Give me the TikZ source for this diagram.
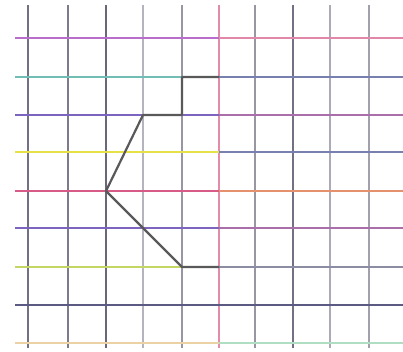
\documentclass[tikz,border=0pt]{standalone}
\usepackage{tikz}
\usetikzlibrary{arrows}
\definecolor{lnviolet}{RGB}{185,110,205}
\definecolor{lnpink}{RGB}{225,135,170}
\definecolor{lnteal}{RGB}{115,190,180}
\definecolor{lnslate}{RGB}{120,128,175}
\definecolor{lnindigo}{RGB}{125,100,190}
\definecolor{lnplum}{RGB}{170,110,170}
\definecolor{lnyellow}{RGB}{230,225,70}
\definecolor{lnred}{RGB}{215,90,135}
\definecolor{lnorange}{RGB}{230,145,110}
\definecolor{lnlime}{RGB}{195,215,100}
\definecolor{lngray}{RGB}{140,140,162}
\definecolor{lnnavy}{RGB}{90,90,130}
\definecolor{lnpale}{RGB}{235,210,165}
\definecolor{lnmint}{RGB}{175,222,195}
\definecolor{lnvert}{RGB}{70,65,90}
\tikzstyle{gridline} = [line width=1.15pt]
\tikzstyle{route} = [draw=black!65, line width=2.2pt, line join=round]

\begin{document}
\begin{tikzpicture}[x=1pt,y=-1pt]

\useasboundingbox[fill=white] (0,0) rectangle (403,352);

% vertical lines
\foreach \x/\c in {28/lnvert!75, 68/lnvert!70, 106/lnvert!80, 143/lnvert!40, 182/lnvert!55, 219/lnred!70, 255/lnvert!55, 293/lnvert!75, 330/lnvert!45, 369/lnvert!50}
  \draw[gridline, \c] (\x,5) -- (\x,348);

% horizontal lines, left part and right part
\foreach \y/\l/\r in {38/lnviolet/lnpink, 77/lnteal/lnslate, 115/lnindigo/lnplum, 152/lnyellow/lnslate, 191/lnred/lnorange, 228/lnindigo/lnplum, 267/lnlime/lngray, 305/lnnavy/lnnavy, 343/lnpale/lnmint}
{
  \draw[gridline, \l] (15,\y) -- (219,\y);
  \draw[gridline, \r] (219,\y) -- (403,\y);
}

% the route
\coordinate (p0) at (219,77);
\coordinate (p1) at (182,77);
\coordinate (p2) at (182,115);
\coordinate (p3) at (143,115);
\coordinate (p4) at (106,191);
\coordinate (p5) at (182,267);
\coordinate (p6) at (219,267);
\draw[route] (p0) -- (p1) -- (p2) -- (p3) -- (p4) -- (p5) -- (p6);

\end{tikzpicture}
\end{document}
